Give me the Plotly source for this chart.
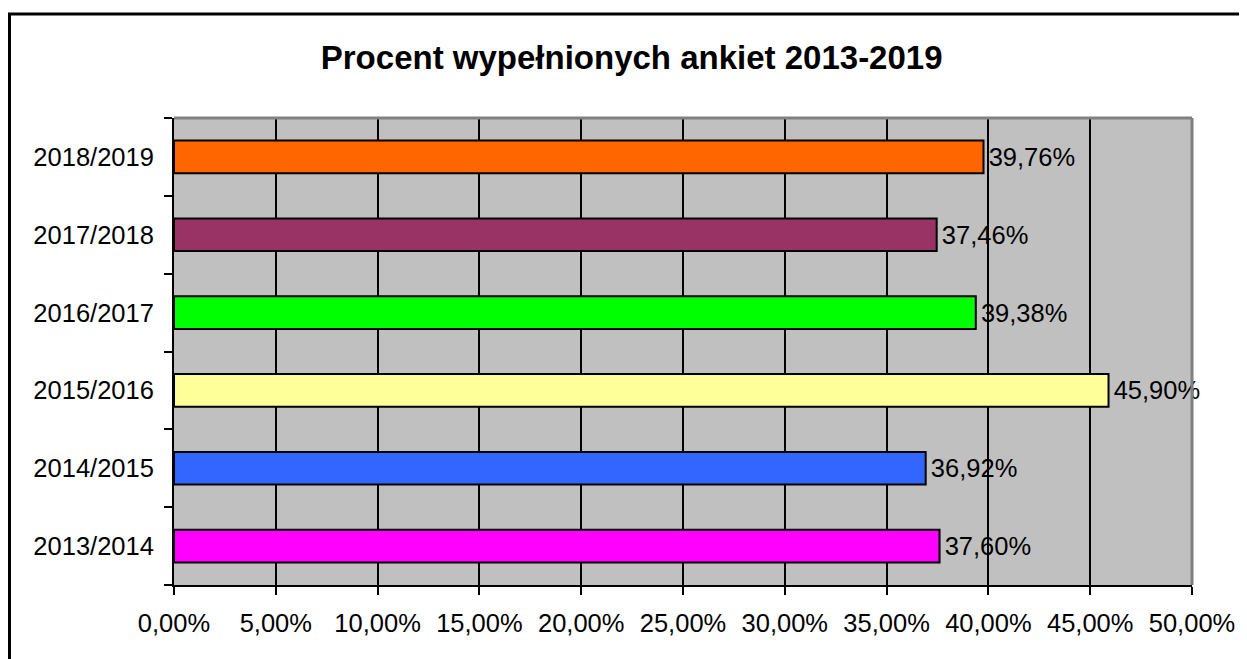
import plotly.graph_objects as go

categories = ["2013/2014", "2014/2015", "2015/2016", "2016/2017", "2017/2018", "2018/2019"]
values = [0.3760, 0.3692, 0.4590, 0.3938, 0.3746, 0.3976]
colors = ["#FF00FF", "#3366FF", "#FFFF99", "#00FF00", "#993366", "#FF6600"]
title_text = "Procent wypełnionych ankiet 2013-2019"

labels = ["\u200a" + f"{v*100:.2f}%".replace(".", ",") for v in values]

# page body has an 8px margin; build figure so it lands where the reference is
OFF = 8
W, H = 1247 - OFF, 659 - OFF
L, T = 174 - OFF, 118 - OFF
R = W - (1195 - OFF)
B = H - (585 - OFF)
pw, ph = W - L - R, H - T - B

FONT = "Liberation Sans, Arial"

fig = go.Figure(go.Bar(
    y=categories, x=values, orientation="h",
    marker=dict(color=colors, line=dict(color="black", width=2)),
    width=0.42,
    text=labels, textposition="outside", cliponaxis=False,
    textfont=dict(family=FONT, size=25.5, color="black"),
))

fig.update_layout(
    width=W, height=H,
    margin=dict(l=L, r=R, t=T, b=B, pad=0),
    paper_bgcolor="white", plot_bgcolor="#C0C0C0",
    separators=", ",
    showlegend=False,
    font=dict(family=FONT, size=25.5, color="black"),
    title=dict(text="<b>" + title_text + "</b>", x=(633 - OFF - L) / pw, xref="paper", xanchor="center",
               y=1 - (57 - OFF) / H, yanchor="middle",
               font=dict(family=FONT, size=33, color="black")),
    xaxis=dict(range=[0, 0.5], dtick=0.05, tickformat=".2%", showgrid=True, gridcolor="black", gridwidth=2,
               showline=True, linecolor="black", linewidth=2, ticks="outside", ticklen=8, tickwidth=2,
               tickcolor="black", zeroline=False, fixedrange=True, ticklabelstandoff=6),
    yaxis=dict(showgrid=False, showline=True, linecolor="black", linewidth=2, ticks="outside",
               tickson="boundaries", ticklen=8, tickwidth=2, tickcolor="black", fixedrange=True,
               ticklabelstandoff=13),
)

# plot area top/right gray border
fig.add_shape(type="line", xref="paper", yref="paper", x0=0, x1=1, y0=1, y1=1,
              line=dict(color="#808080", width=3))
fig.add_shape(type="line", xref="paper", yref="paper", x0=1, x1=1, y0=0, y1=1,
              line=dict(color="#808080", width=3))
# outer chart border (extends beyond the visible frame on right/bottom)
fig.add_shape(type="rect", xref="paper", yref="paper",
              x0=(9 - OFF - L) / pw, x1=(W + 30 - L) / pw,
              y0=-(B + 30) / ph, y1=1 + (T - (14 - OFF)) / ph,
              line=dict(color="black", width=3), layer="above")

fig.write_html("out.html")
